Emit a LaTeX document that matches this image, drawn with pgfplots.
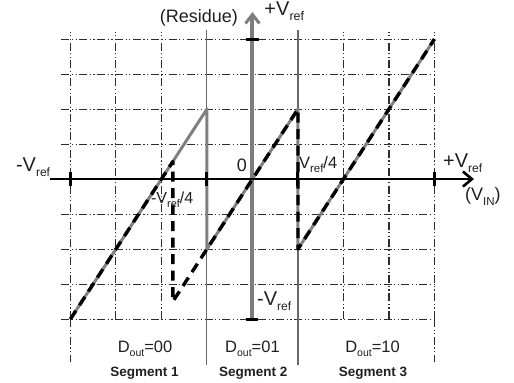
\documentclass[border=0pt]{standalone}
\usepackage{fontspec}
\setmainfont{Liberation Sans}
\usepackage{pgfplots}
\pgfplotsset{compat=1.18}
\usetikzlibrary{arrows.meta}

\definecolor{curvegray}{RGB}{128,128,128}
\definecolor{axisgray}{RGB}{125,125,125}
\definecolor{seggray}{RGB}{105,105,105}
\definecolor{gridc}{RGB}{45,45,45}

% lowered subscript with an explicit size
\newcommand{\sub}[2][11.5]{\raisebox{-0.28em}{\fontsize{#1}{#1}\selectfont #2}}

\tikzset{
  gridline/.style={gridc, line width=1.1pt,
    dash pattern=on 8pt off 2.5pt on 1.2pt off 2.5pt on 1.2pt off 2.5pt},
  lbl/.style={inner sep=0pt, text=black!88},
}

\begin{document}
\begin{tikzpicture}
\begin{axis}[
  x=182pt, y=140pt,
  xmin=-1.05, xmax=1.015, ymin=-1, ymax=1.05,
  axis line style={draw=none},
  xtick={-1,-0.75,-0.5,0.5,0.75,1},
  ytick={-1,-0.75,-0.5,-0.25,0.25,0.5,0.75,1},
  xticklabels={,,,,,}, yticklabels={,,,,,,,},
  tick label style={opacity=0},
  major tick length=0pt,
  grid=major,
  major grid style={gridline},
  clip=false,
]
% extensions of the outer grid lines below the plot
\addplot[gridline] coordinates {(-1,-1) (-1,-1.31)};
\addplot[gridline] coordinates {(1,-1) (1,-1.31)};

% segment boundaries
\addplot[seggray, line width=1.1pt] coordinates {(-0.25,1.064) (-0.25,-1.33)};
\addplot[seggray, line width=1.1pt] coordinates {(0.25,1.064) (0.25,-1.33)};

% ideal residue transfer curve
\addplot[curvegray, line width=3pt, line join=round] coordinates {
  (-1,-1) (-0.25,0.5) (-0.25,-0.5) (0.25,0.5) (0.25,-0.5) (1,1)};

% residue axis
\addplot[axisgray, line width=4pt, -{Straight Barb[length=9pt, width=14pt, line width=3pt]}]
  coordinates {(0,-1) (0,1.193)};

% input axis
\addplot[black, line width=2.6pt, -{Straight Barb[length=9pt, width=15pt, line width=2.6pt]}]
  coordinates {(-1.11,0) (1.217,0)};

% residue with shifted comparator threshold
\addplot[black, line width=3.4pt, line join=round, dash pattern=on 10pt off 6.5pt] coordinates {
  (-1,-1) (-0.4375,0.125) (-0.4375,-0.875) (0.25,0.5) (0.25,-0.5) (1,1)};

% tick marks on the axes
\addplot[black, line width=3pt] coordinates {(-1,-0.05) (-1,0.05)};
\addplot[black, line width=3pt] coordinates {(-0.25,-0.05) (-0.25,0.05)};
\addplot[black, line width=3pt] coordinates {(0.25,-0.05) (0.25,0.05)};
\addplot[black, line width=3pt] coordinates {(1,-0.05) (1,0.05)};
\addplot[black, line width=3pt] coordinates {(-0.035,1) (0.035,1)};
\addplot[black, line width=3pt] coordinates {(-0.038,-1) (0.032,-1)};

% labels
\node[lbl, font=\fontsize{18}{21}\selectfont] at (axis cs:-0.294,1.15) {(Residue)};
\node[lbl, anchor=base west, font=\fontsize{20}{22}\selectfont] at (axis cs:0.065,1.17) {+V\sub[12.5]{ref}};
\node[lbl, anchor=base west, font=\fontsize{20}{22}\selectfont] at (axis cs:-1.30,0.057) {-V\sub[12]{ref}};
\node[lbl, anchor=base west, font=\fontsize{20}{22}\selectfont] at (axis cs:1.047,0.086) {+V\sub[12]{ref}};
\node[lbl, anchor=base west, font=\fontsize{18}{20}\selectfont] at (axis cs:1.168,-0.15) {(V\sub[11.5]{IN})};
\node[lbl, font=\fontsize{18}{21}\selectfont] at (axis cs:-0.058,0.096) {0};
\node[lbl, anchor=base west, font=\fontsize{16}{19}\selectfont] at (axis cs:-0.558,-0.171) {-V\sub[11]{ref}/4};
\node[lbl, anchor=base west, font=\fontsize{16.5}{19}\selectfont] at (axis cs:0.255,0.079) {V\sub[11.5]{ref}/4};
\node[lbl, anchor=base west, font=\fontsize{20}{22}\selectfont] at (axis cs:0.025,-0.9) {-V\sub[12]{ref}};

\node[lbl, anchor=base, font=\fontsize{16.5}{19}\selectfont] at (axis cs:-0.59,-1.236) {D\sub[10.5]{out}=00};
\node[lbl, anchor=base, font=\fontsize{16.5}{19}\selectfont] at (axis cs:0.0,-1.236) {D\sub[10.5]{out}=01};
\node[lbl, anchor=base, font=\fontsize{16.5}{19}\selectfont] at (axis cs:0.66,-1.236) {D\sub[10.5]{out}=10};
\node[lbl, anchor=base, font=\bfseries\fontsize{13.5}{16}\selectfont] at (axis cs:-0.593,-1.407) {Segment 1};
\node[lbl, anchor=base, font=\bfseries\fontsize{13.5}{16}\selectfont] at (axis cs:0.005,-1.407) {Segment 2};
\node[lbl, anchor=base, font=\bfseries\fontsize{13.5}{16}\selectfont] at (axis cs:0.662,-1.407) {Segment 3};

\coordinate (bl) at (axis cs:-1.387,-1.45);
\coordinate (tr) at (axis cs:1.437,1.279);
\end{axis}
\pgfresetboundingbox
\path (bl) rectangle (tr);
\end{tikzpicture}
\end{document}
